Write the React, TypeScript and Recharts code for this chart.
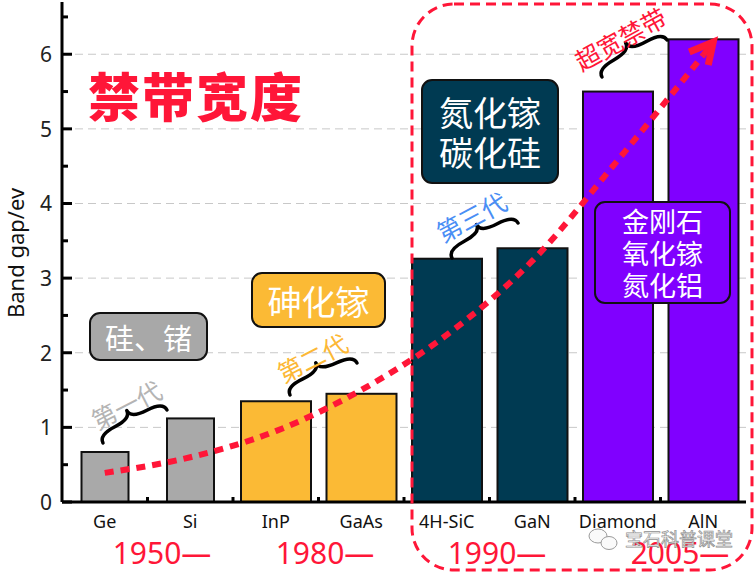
import { ComposedChart, Bar, Line, XAxis, YAxis, CartesianGrid } from 'recharts'

const CATEGORIES = ['Ge', 'Si', 'InP', 'GaAs', '4H-SiC', 'GaN', 'Diamond', 'AlN']
const BAND_GAP = [0.67, 1.12, 1.35, 1.45, 3.26, 3.4, 5.5, 6.2]
const TREND = [0.39, 0.6, 0.95, 1.5, 2.24, 3.23, 4.58, 5.99]
const Y_TICKS = [0, 0.5, 1, 1.5, 2, 2.5, 3, 3.5, 4, 4.5, 5, 5.5, 6, 6.5]
const GRID_VALUES = [1, 2, 3, 4, 5, 6]
const YEARS = ['1950—', '1980—', '1990—', '2005—']

const BAR_COLORS = ['#a9a9a9', '#a9a9a9', '#fbba35', '#fbba35', '#003a52', '#003a52', '#8000ff', '#8000ff']
const NARROW = [0, 1]
const RED = '#ff1638'
const SANS = "'Noto Sans', 'Open Sans', sans-serif"
const CJK = "'Noto Sans CJK SC', sans-serif"
const BAND = 684 / 8

const data = CATEGORIES.map((name, i) => ({ name, gap: BAND_GAP[i], trend: TREND[i] }))

const LeftTick = ({ x, y, payload }: any) => {
  const major = Number.isInteger(payload.value)
  return (
    <g>
      <line x1={x} x2={x + (major ? 10 : 6)} y1={y} y2={y} stroke="#000" strokeWidth={3} />
      {major && (
        <text x={x - 10} y={y} textAnchor="end" dominantBaseline="central" fontSize={21}
          fontFamily={SANS} fill="#222">{payload.value}</text>
      )}
    </g>
  )
}

const RightTick = ({ x, y, payload }: any) => {
  const major = Number.isInteger(payload.value)
  return <line x1={x} x2={x - (major ? 10 : 6)} y1={y} y2={y} stroke="#000" strokeWidth={3} />
}

const BottomTick = ({ x, y, payload, index }: any) => (
  <g>
    {index > 0 && <line x1={x - BAND / 2} x2={x - BAND / 2} y1={y} y2={y - 5} stroke="#000" strokeWidth={3} />}
    <text x={x} y={y + 19} textAnchor="middle" dominantBaseline="central" fontSize={18}
      fontFamily={SANS} fill="#111">{payload.value}</text>
  </g>
)

const TopTick = ({ x, y, index }: any) => (
  <g>
    <line x1={x} x2={x} y1={y} y2={y + 10} stroke="#000" strokeWidth={3} />
    {index > 0 && <line x1={x - BAND / 2} x2={x - BAND / 2} y1={y} y2={y + 6} stroke="#000" strokeWidth={3} />}
  </g>
)

const BarShape = (props: any) => {
  const { x, y, width, height, index } = props
  const w = NARROW.includes(index) ? 47 : width
  return <rect x={x + width / 2 - w / 2} y={y} width={w} height={height}
    fill={BAR_COLORS[index]} stroke="#111" strokeWidth={2} />
}

const ArrowDot = (props: any) => {
  const { cx, cy, index } = props
  if (index !== CATEGORIES.length - 1) return null
  const tx = cx + 10, ty = cy - 13
  return (
    <g key="arrow">
      <line x1={cx} y1={cy} x2={tx} y2={ty} stroke={RED} strokeWidth={6} />
      <path d={`M${tx - 24},${ty + 10} L${tx},${ty} L${tx - 5},${ty + 23}`} fill="none"
        stroke={RED} strokeWidth={7} strokeLinejoin="miter" />
    </g>
  )
}

const Brace = ({ x1, y1, x2, y2, h = 18 }: any) => {
  const L = Math.hypot(x2 - x1, y2 - y1)
  const ang = (Math.atan2(y2 - y1, x2 - x1) * 180) / Math.PI
  const mx = (x1 + x2) / 2, my = (y1 + y2) / 2
  const d = `M${-L / 2},0 Q${-L / 2},${-h / 2} ${-L / 4},${-h / 2} T0,${-h} ` +
    `M${L / 2},0 Q${L / 2},${-h / 2} ${L / 4},${-h / 2} T0,${-h}`
  return <path d={d} transform={`translate(${mx},${my}) rotate(${ang})`} fill="none" stroke="#000"
    strokeWidth={3.5} strokeLinecap="round" />
}

const GenLabel = ({ x, y, angle, color, size = 25, children }: any) => (
  <text x={x} y={y} transform={`rotate(${angle},${x},${y})`} textAnchor="middle" dominantBaseline="central"
    fontSize={size} fontFamily={CJK} fill={color}>{children}</text>
)

const Box = ({ x, y, w, h, fill, lines, size, lineGap }: any) => (
  <g>
    <rect x={x} y={y} width={w} height={h} rx={10} fill={fill} stroke="#111" strokeWidth={2} />
    {lines.map((t: string, i: number) => (
      <text key={i} x={x + w / 2} y={y + h / 2 + (i - (lines.length - 1) / 2) * lineGap}
        textAnchor="middle" dominantBaseline="central" fontSize={size} fontFamily={CJK} fill="#fff">{t}</text>
    ))}
  </g>
)

export default function App() {
  return (
    <div style={{ position: 'fixed', left: 0, top: 0, width: 756, height: 572, background: '#fff' }}>
      <ComposedChart width={756} height={572} data={data} margin={{ top: 2, right: 10, bottom: 40, left: 0 }}>
        <CartesianGrid vertical={false} horizontalValues={GRID_VALUES} stroke="#c8c8c8" strokeDasharray="8 5" />
        <XAxis dataKey="name" height={30} interval={0} tickSize={0} tickMargin={0}
          axisLine={{ stroke: '#000', strokeWidth: 3 }} tick={(p: any) => <BottomTick {...p} />} />
        <XAxis xAxisId="top" orientation="top" dataKey="name" height={0} interval={0} tickSize={0} tickMargin={0}
          axisLine={{ stroke: '#000', strokeWidth: 3 }} tick={(p: any) => <TopTick {...p} />} />
        <YAxis width={62} domain={[0, 6.7]} ticks={Y_TICKS} interval={0} tickSize={0} tickMargin={0}
          axisLine={{ stroke: '#000', strokeWidth: 3 }} tick={(p: any) => <LeftTick {...p} />} />
        <YAxis yAxisId="right" orientation="right" width={0} domain={[0, 6.7]} ticks={Y_TICKS} interval={0}
          tickSize={0} tickMargin={0} axisLine={{ stroke: '#000', strokeWidth: 3 }} tick={(p: any) => <RightTick {...p} />} />
        <Bar dataKey="gap" barSize={70} shape={(p: any) => <BarShape {...p} />} isAnimationActive={false} />
        <Line dataKey="trend" type="monotone" stroke={RED} strokeWidth={6} strokeDasharray="9 7"
          dot={(p: any) => <ArrowDot key={p.index} {...p} />} activeDot={false} isAnimationActive={false} />
      </ComposedChart>

      <svg width={756} height={572} style={{ position: 'absolute', left: 0, top: 0, pointerEvents: 'none' }}>
        <text x={15} y={253} transform="rotate(-90,15,253)" textAnchor="middle" dominantBaseline="central"
          fontSize={22} fontFamily={SANS} fill="#111">Band gap/ev</text>

        <text x={196} y={94} textAnchor="middle" dominantBaseline="central" fontSize={52} fontWeight={900}
          fontFamily={CJK} fill={RED} letterSpacing={2}>禁带宽度</text>

        <Box x={90} y={313} w={117} h={47} fill="#a8a8a8" lines={['硅、锗']} size={29} lineGap={0} />
        <Box x={252} y={273} w={133} h={54} fill="#fbba35" lines={['砷化镓']} size={34} lineGap={0} />
        <Box x={422} y={80} w={136} h={103} fill="#003a52" lines={['氮化镓', '碳化硅']} size={34} lineGap={40} />
        <Box x={595} y={202} w={135} h={101} fill="#8000ff" lines={['金刚石', '氧化镓', '氮化铝']} size={27} lineGap={32} />

        <Brace x1={103} y1={443} x2={167} y2={410} />
        <Brace x1={290} y1={395} x2={357} y2={363} />
        <Brace x1={452} y1={258} x2={518} y2={223} />
        <Brace x1={602} y1={77} x2={667} y2={40} />

        <GenLabel x={126} y={404} angle={-27} color="#b4b4b4">第一代</GenLabel>
        <GenLabel x={312} y={357} angle={-27} color="#fcb836">第二代</GenLabel>
        <GenLabel x={471} y={216} angle={-28} color="#4a8ef5">第三代</GenLabel>
        <GenLabel x={620} y={38} angle={-29} color={RED} size={25}>超宽禁带</GenLabel>

        <rect x={412} y={4} width={340} height={566} rx={42} fill="none" stroke={RED} strokeWidth={3} strokeDasharray="10 6" />

        {YEARS.map((t, i) => (
          <text key={t} x={[162, 325, 497, 680][i]} y={552} textAnchor="middle" dominantBaseline="central"
            fontSize={30} fontFamily={SANS} fill={RED}>{t}</text>
        ))}

        <g fill="#fafafa" stroke="#9a9a9a" strokeWidth={1}>
          <ellipse cx={598} cy={536} rx={9} ry={7} />
          <ellipse cx={609} cy={543} rx={8} ry={6.5} />
        </g>
        <text x={625} y={538} dominantBaseline="central" fontSize={18} fontFamily={CJK}
          fill="#f6f6f6" stroke="#8f8f8f" strokeWidth={0.7}>宝石科普课堂</text>
      </svg>
    </div>
  )
}
